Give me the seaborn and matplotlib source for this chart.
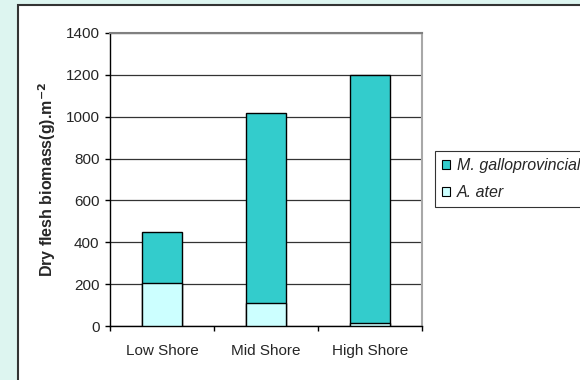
import matplotlib
matplotlib.use("Agg")
import matplotlib.pyplot as plt
import seaborn as sns
import pandas as pd
from matplotlib.patches import Rectangle, Patch

categories = ["Low Shore", "Mid Shore", "High Shore"]
m_gallo = [243, 910, 1188]
a_ater = [207, 110, 12]
series_names = ["M. galloprovincialis", "A. ater"]
yticks = [0, 200, 400, 600, 800, 1000, 1200, 1400]

sns.set_theme(style="white")
plt.rcParams['font.family'] = ['Liberation Sans', 'DejaVu Sans']

fig = plt.figure(figsize=(5.8, 3.8), dpi=100)
fig.patch.set_facecolor("#DDF5F0")
panel = Rectangle((18 / 580, -0.05), 1.0, (380 - 5) / 380 + 0.05,
                  transform=fig.transFigure, facecolor="white",
                  edgecolor="#333333", linewidth=1.5, zorder=-5)
fig.patches.append(panel)

ax = fig.add_axes([110 / 580, (380 - 326) / 380, (422 - 110) / 580, (326 - 33) / 380])
ax.set_zorder(2)
ax.set_facecolor("white")

df = pd.DataFrame({"cat": categories,
                   "total": [m + a for m, a in zip(m_gallo, a_ater)],
                   "ater": a_ater})

sns.barplot(data=df, x="cat", y="total", color="#33CCCC", edgecolor="black",
            linewidth=1.0, width=0.39, saturation=1, ax=ax, zorder=3)
sns.barplot(data=df, x="cat", y="ater", color="#CCFFFF", edgecolor="black",
            linewidth=1.0, width=0.39, saturation=1, ax=ax, zorder=4)

ax.set_xlim(-0.5, 2.5)
ax.set_ylim(0, 1400)
ax.set_yticks(yticks)
ax.set_yticklabels([str(v) for v in yticks], fontsize=11)
ax.yaxis.grid(True, color="#333333", linewidth=0.9, zorder=1)
ax.set_axisbelow(True)
ax.set_xlabel("")
ax.set_ylabel("Dry flesh biomass(g).m$^{\\mathbf{-2}}$", fontsize=11.5,
              fontweight="bold", labelpad=5)

ax.tick_params(axis="y", which="major", left=True, length=3.6, width=1,
               color="black", pad=4)
ax.tick_params(axis="x", which="major", length=0, pad=13, labelsize=11)
ax.set_xticks([-0.5, 0.5, 1.5, 2.5], minor=True)
ax.tick_params(axis="x", which="minor", bottom=True, length=3.6, width=1,
               color="black")

for side in ["left", "bottom"]:
    ax.spines[side].set_color("black")
    ax.spines[side].set_linewidth(1.0)
ax.spines["top"].set_color("#808080")
ax.spines["top"].set_linewidth(1.5)
ax.spines["right"].set_color("#A8A8A8")
ax.spines["right"].set_linewidth(1.5)

handles = [Patch(facecolor="#33CCCC", edgecolor="black", linewidth=0.8),
           Patch(facecolor="#CCFFFF", edgecolor="black", linewidth=0.8)]
leg = fig.legend(handles, series_names, loc="upper left",
                 bbox_to_anchor=(435 / 580, (380 - 151) / 380),
                 prop={"style": "italic", "size": 11.5},
                 frameon=True, fancybox=False, handlelength=0.5,
                 handleheight=0.5, handletextpad=0.4, borderpad=0.45,
                 labelspacing=0.75, borderaxespad=0)
leg.get_frame().set_edgecolor("black")
leg.get_frame().set_linewidth(0.8)
leg.get_frame().set_facecolor("white")

fig.savefig("out.png", dpi=100, facecolor=fig.get_facecolor())
